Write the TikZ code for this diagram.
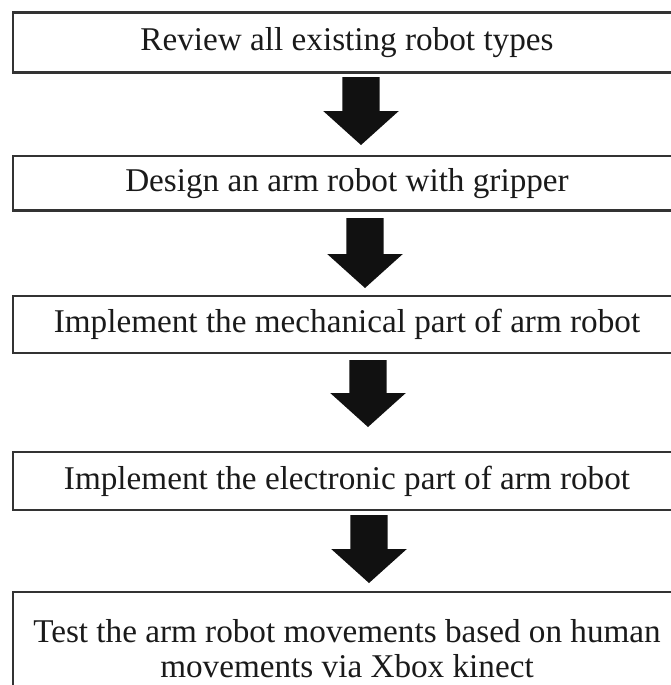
\documentclass[tikz,border=0pt]{standalone}
\usepackage{fontspec}
\setmainfont{Liberation Serif}
\usetikzlibrary{calc}
\definecolor{boxline}{HTML}{333333}
\definecolor{arrowfill}{HTML}{111111}
\definecolor{ink}{HTML}{1A1A1A}
\tikzset{
  stepbox/.style={draw=boxline, line width=2.2pt, fill=white,
    minimum width=668.6pt, inner sep=0pt, text=ink,
    font=\fontsize{33.2}{35}\selectfont, align=center},
  fatarrow/.style={fill=arrowfill}
}
% thick downward block arrow from the top of its shaft (#1) to its tip (#2)
\newcommand\blockarrow[2]{%
  \fill[fatarrow] let \p1=(#1), \p2=(#2) in
    (\x1-18.6pt,\y1) -- (\x1+18.6pt,\y1) -- (\x1+18.6pt,\y2+34pt)
    -- (\x1+37.8pt,\y2+34pt) -- (\x2,\y2) -- (\x1-37.8pt,\y2+34pt)
    -- (\x1-18.6pt,\y2+34pt) -- cycle;}
\begin{document}
\begin{tikzpicture}[x=1pt,y=-1pt]
\useasboundingbox (0,0) rectangle (671,685);
\clip (0,0) rectangle (671,685);
\fill[white] (0,0) rectangle (671,685);

% process steps
\node[stepbox, minimum height=60pt]   (b1) at (347,42.5)  {Review all existing robot types};
\node[stepbox, minimum height=54.3pt] (b2) at (347,183.3) {Design an arm robot with gripper};
\node[stepbox, minimum height=57.6pt] (b3) at (347,324.5) {Implement the mechanical part of arm robot};
\node[stepbox, minimum height=58.3pt] (b4) at (347,481.2) {Implement the electronic part of arm robot};
\node[stepbox, minimum height=113.6pt] (b5) at (347,648.5) {Test the arm robot movements based on human\\movements via Xbox kinect};

% arrow ends
\coordinate (a1s) at (361,77);  \coordinate (a1e) at (361,145);
\coordinate (a2s) at (365,218); \coordinate (a2e) at (365,288);
\coordinate (a3s) at (368,360); \coordinate (a3e) at (368,427);
\coordinate (a4s) at (369,515); \coordinate (a4e) at (369,583);

\blockarrow{a1s}{a1e}
\blockarrow{a2s}{a2e}
\blockarrow{a3s}{a3e}
\blockarrow{a4s}{a4e}
\end{tikzpicture}
\end{document}
